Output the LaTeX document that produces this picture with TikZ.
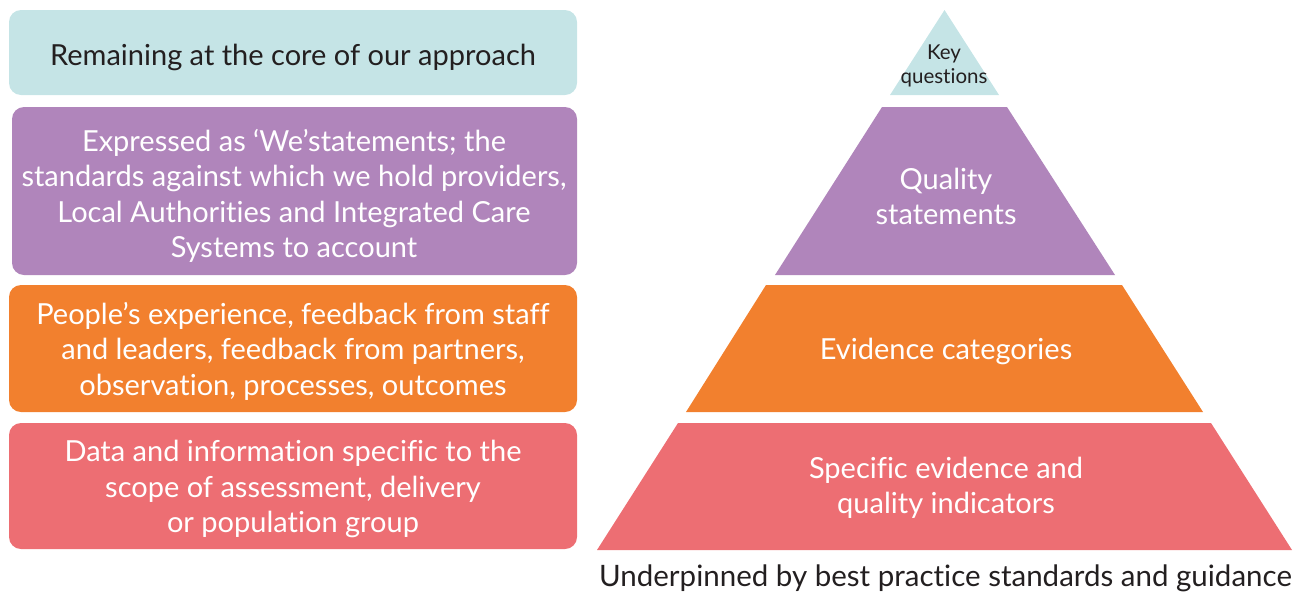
\documentclass[tikz,border=0pt]{standalone}
\usepackage{fontspec}
\setmainfont{Lato}[Ligatures=NoCommon]
\definecolor{cteal}{HTML}{C5E4E6}
\definecolor{cpurple}{HTML}{B085BB}
\definecolor{corange}{HTML}{F2802E}
\definecolor{cred}{HTML}{ED6E73}
\definecolor{ctext}{HTML}{231F20}
\begin{document}
\begin{tikzpicture}[x=1pt,y=-1pt,
  lbox/.style={fill=#1, rounded corners=12pt, draw=none},
  ltext/.style={align=center, font=\fontsize{29}{35.5}\selectfont, text=white, inner sep=0pt},
  ptext/.style={align=center, font=\fontsize{29}{35}\selectfont, text=white, inner sep=0pt}]
\useasboundingbox (0,0) rectangle (1305,592);
% left boxes
\fill[lbox=cteal] (9,10) rectangle (577,95);
\fill[lbox=cpurple] (12,107) rectangle (577,275);
\fill[lbox=corange] (9,285) rectangle (577,412);
\fill[lbox=cred] (9,423) rectangle (577,549);
\node[ltext, text=ctext] (t1) at (293,57.5) {Remaining at the core of our approach};
\node[ltext] (t2) at (294,196) {Expressed as ‘We’statements; the\\standards against which we hold providers,\\Local Authorities and Integrated Care\\Systems to account};
\node[ltext] (t3) at (293,351) {People’s experience, feedback from staff\\and leaders, feedback from partners,\\observation, processes, outcomes};
\node[ltext] (t4) at (293,489) {Data and information specific to the\\scope of assessment, delivery\\or population group};
% pyramid
\fill[cteal] (944.5,10) -- (999,95) -- (890,95) -- cycle;
\fill[cpurple] (882,107) -- (1007,107) -- (1115,275) -- (775,275) -- cycle;
\fill[corange] (766,285) -- (1122,285) -- (1203,412) -- (686,412) -- cycle;
\fill[cred] (678,423) -- (1211,423) -- (1292,550) -- (597,550) -- cycle;
\node[align=center, font=\fontsize{20.5}{24}\selectfont, text=ctext, inner sep=0pt] (p1) at (944,66) {Key\\questions};
\node[ptext] (p2) at (946,196) {Quality\\statements};
\node[ptext] (p3) at (946,351) {Evidence categories};
\node[ptext] (p4) at (946,488) {Specific evidence and\\quality indicators};
\node[font=\fontsize{29.5}{30}\selectfont, text=ctext, inner sep=0pt] (cap) at (945.5,578) {Underpinned by best practice standards and guidance};
\end{tikzpicture}
\end{document}
